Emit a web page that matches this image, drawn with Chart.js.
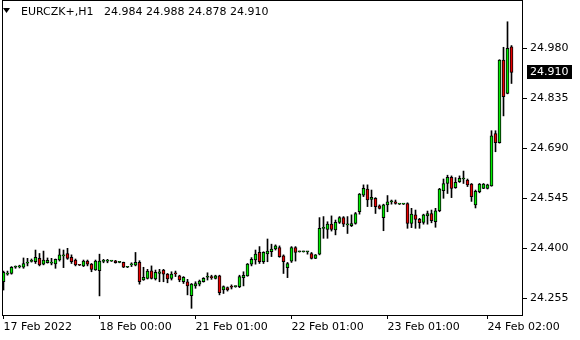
<!DOCTYPE html>
<html>
<head>
<meta charset="utf-8">
<script src="https://cdn.jsdelivr.net/npm/chart.js@4/dist/chart.umd.min.js"></script>
<style>
html, body { margin: 0; padding: 0; background: #fff; }
canvas { display: block; }
</style>
</head>
<body>
<canvas id="chart" width="580" height="340"></canvas>
<script>
// EURCZK+ H1 candles, 17 Feb 2022 00:00 .. 24 Feb 2022 08:00
var symbol = 'EURCZK+,H1';

var openP = [24.303,24.325,24.327,24.345,24.346,24.345,24.357,24.362,24.361,24.371,24.354,24.358,24.357,24.355,24.366,24.378,24.385,24.374,24.366,24.352,24.349,24.363,24.354,24.337,
24.335,24.362,24.363,24.363,24.364,24.359,24.359,24.345,24.352,24.351,24.359,24.308,24.313,24.335,24.311,24.327,24.337,24.325,24.313,24.327,24.320,24.303,24.303,24.263,
24.291,24.296,24.303,24.316,24.316,24.313,24.320,24.279,24.286,24.288,24.289,24.289,24.315,24.320,24.354,24.366,24.388,24.361,24.384,24.390,24.398,24.402,24.378,24.344,
24.363,24.402,24.390,24.390,24.390,24.385,24.371,24.383,24.458,24.455,24.470,24.453,24.475,24.489,24.468,24.466,24.472,24.506,24.554,24.572,24.542,24.545,24.523,24.489,
24.526,24.535,24.535,24.528,24.528,24.530,24.472,24.497,24.484,24.475,24.494,24.501,24.477,24.509,24.567,24.588,24.606,24.576,24.593,24.601,24.598,24.586,24.526,24.564,
24.574,24.574,24.581,24.733,24.706,24.946,24.849,24.984];

var highP = [24.334,24.334,24.347,24.349,24.351,24.372,24.371,24.369,24.395,24.385,24.392,24.372,24.371,24.369,24.398,24.395,24.400,24.381,24.369,24.353,24.366,24.366,24.356,24.366,
24.383,24.368,24.368,24.364,24.365,24.360,24.360,24.346,24.358,24.388,24.364,24.345,24.339,24.349,24.337,24.339,24.339,24.327,24.332,24.334,24.322,24.318,24.310,24.298,
24.303,24.308,24.315,24.329,24.322,24.322,24.322,24.291,24.288,24.294,24.291,24.322,24.332,24.356,24.373,24.395,24.405,24.390,24.427,24.412,24.410,24.407,24.381,24.359,
24.405,24.405,24.391,24.391,24.391,24.388,24.382,24.489,24.492,24.477,24.494,24.482,24.492,24.492,24.492,24.497,24.504,24.559,24.584,24.584,24.569,24.547,24.526,24.528,
24.553,24.540,24.540,24.529,24.529,24.532,24.516,24.511,24.487,24.499,24.508,24.511,24.516,24.574,24.601,24.612,24.610,24.605,24.610,24.624,24.601,24.588,24.569,24.588,
24.588,24.586,24.741,24.741,24.947,24.983,25.057,24.988];

var lowP = [24.279,24.322,24.325,24.342,24.343,24.342,24.349,24.360,24.356,24.349,24.352,24.357,24.352,24.342,24.363,24.344,24.368,24.356,24.349,24.350,24.347,24.349,24.332,24.336,
24.262,24.358,24.358,24.362,24.357,24.358,24.344,24.344,24.347,24.349,24.296,24.307,24.311,24.311,24.308,24.303,24.303,24.300,24.308,24.318,24.303,24.298,24.265,24.226,
24.284,24.291,24.302,24.308,24.310,24.311,24.265,24.269,24.276,24.282,24.287,24.286,24.291,24.319,24.349,24.354,24.356,24.356,24.361,24.376,24.395,24.374,24.327,24.315,
24.359,24.363,24.389,24.389,24.383,24.369,24.370,24.381,24.429,24.429,24.450,24.439,24.472,24.463,24.443,24.463,24.470,24.499,24.550,24.521,24.521,24.501,24.514,24.451,
24.506,24.528,24.528,24.527,24.527,24.458,24.460,24.458,24.458,24.470,24.470,24.474,24.461,24.506,24.545,24.559,24.547,24.574,24.591,24.588,24.579,24.536,24.517,24.561,
24.573,24.572,24.580,24.680,24.705,24.784,24.848,24.878];

var closeP = [24.330,24.328,24.345,24.346,24.348,24.356,24.360,24.364,24.374,24.352,24.366,24.365,24.359,24.368,24.381,24.379,24.371,24.361,24.352,24.351,24.363,24.354,24.339,24.363,
24.363,24.365,24.365,24.363,24.358,24.359,24.345,24.345,24.354,24.359,24.303,24.316,24.334,24.313,24.330,24.332,24.325,24.311,24.325,24.326,24.308,24.316,24.291,24.296,
24.298,24.305,24.313,24.317,24.315,24.320,24.271,24.289,24.279,24.287,24.289,24.318,24.322,24.354,24.368,24.383,24.361,24.388,24.392,24.398,24.407,24.376,24.361,24.356,
24.402,24.388,24.390,24.390,24.390,24.371,24.381,24.458,24.459,24.470,24.455,24.475,24.489,24.470,24.469,24.472,24.501,24.557,24.574,24.540,24.548,24.521,24.516,24.526,
24.535,24.536,24.530,24.528,24.528,24.472,24.499,24.484,24.474,24.497,24.501,24.480,24.509,24.572,24.588,24.606,24.574,24.591,24.603,24.602,24.584,24.550,24.565,24.586,
24.586,24.584,24.726,24.706,24.946,24.840,24.980,24.910];

// trading hours per day shown on the chart
var days = [['17 Feb', 0, 23], ['18 Feb', 0, 23], ['21 Feb', 1, 23], ['22 Feb', 0, 23], ['23 Feb', 0, 23], ['24 Feb', 0, 8]];

// time axis labels (bar index -> text)
var tickIdx = [0, 24, 48, 72, 96, 121];
var tickText = ['17 Feb 2022', '18 Feb 00:00', '21 Feb 01:00', '22 Feb 01:00', '23 Feb 01:00', '24 Feb 02:00'];

// price axis labels
var priceTicks = [24.255, 24.400, 24.545, 24.690, 24.835, 24.980];

var times = [];
days.forEach(d => {
    for (var h = d[1]; h <= d[2]; h++) times.push(d[0] + ' ' + (h < 10 ? '0' : '') + h + ':00');
});

var bullColor = '#00ee00';
var bearColor = '#e80000';
var font = { family: 'DejaVu Sans', size: 11 };

var last = closeP.length - 1;

const framePlugin = {
    id: 'frame',
    afterDraw(chart) {
        var ctx = chart.ctx, a = chart.chartArea;
        ctx.save();
        ctx.strokeStyle = '#000';
        ctx.lineWidth = 1;
        ctx.strokeRect(a.left + 0.5, a.top + 0.5, a.right - a.left - 1, a.bottom - a.top);

        // header: symbol + OHLC of last bar
        ctx.fillStyle = '#000';
        ctx.beginPath();
        ctx.moveTo(3, 8); ctx.lineTo(10, 8); ctx.lineTo(6.5, 13);
        ctx.closePath();
        ctx.fill();
        ctx.font = '11px "DejaVu Sans"';
        ctx.textBaseline = 'middle';
        ctx.fillText(symbol, 21, 12);
        ctx.fillText([openP[last], highP[last], lowP[last], closeP[last]].map(v => v.toFixed(3)).join(' '), 104, 12);

        // last price tag on the price axis
        var y = Math.round(chart.scales.y.getPixelForValue(closeP[last]));
        ctx.fillRect(527, y - 7, 45, 14);
        ctx.fillStyle = '#fff';
        ctx.fillText(closeP[last].toFixed(3), 530, y);
        ctx.restore();
    }
};

new Chart('chart', {
    type: 'bar',
    data: {
        datasets: [{
            // bodies (drawn on top)
            data: times.map((t, i) => ({ x: i, y: [openP[i], closeP[i]] })),
            backgroundColor: times.map((t, i) => closeP[i] >= openP[i] ? bullColor : bearColor),
            borderColor: '#000',
            borderWidth: 1,
            borderSkipped: false,
            barThickness: 3,
            minBarLength: 1,
            grouped: false
        }, {
            // wicks
            data: times.map((t, i) => ({ x: i, y: [lowP[i], highP[i]] })),
            backgroundColor: '#000',
            borderWidth: 0,
            barThickness: 1,
            minBarLength: 1,
            grouped: false
        }]
    },
    options: {
        responsive: false,
        animation: false,
        devicePixelRatio: 1,
        layout: { padding: { left: 2, top: 0, right: 0, bottom: 0 } },
        plugins: { legend: { display: false }, tooltip: { enabled: false } },
        scales: {
            x: {
                type: 'linear',
                offset: false,
                bounds: 'data',
                min: -0.375,
                max: 129.875,
                afterBuildTicks: s => { s.ticks = tickIdx.map(v => ({ value: v })); },
                afterFit: s => { s.height = 25; s.paddingLeft = 0; s.paddingRight = 0; },
                grid: { offset: false, drawOnChartArea: false, drawTicks: true, tickLength: 4, color: '#000' },
                border: { display: false },
                ticks: {
                    autoSkip: false,
                    maxRotation: 0,
                    align: 'start',
                    padding: 2,
                    color: '#000',
                    font: font,
                    callback: v => tickText[tickIdx.indexOf(v)]
                }
            },
            y: {
                position: 'right',
                min: 24.2066,
                max: 25.1201,
                afterBuildTicks: s => { s.ticks = priceTicks.map(v => ({ value: v })); },
                afterFit: s => { s.width = 57; s.paddingTop = 0; s.paddingBottom = 0; },
                grid: { drawOnChartArea: false, drawTicks: true, tickLength: 4, color: '#000' },
                border: { display: false },
                ticks: {
                    padding: 3,
                    color: '#000',
                    font: font,
                    callback: v => v.toFixed(3)
                }
            }
        }
    },
    plugins: [framePlugin]
});
</script>
</body>
</html>
